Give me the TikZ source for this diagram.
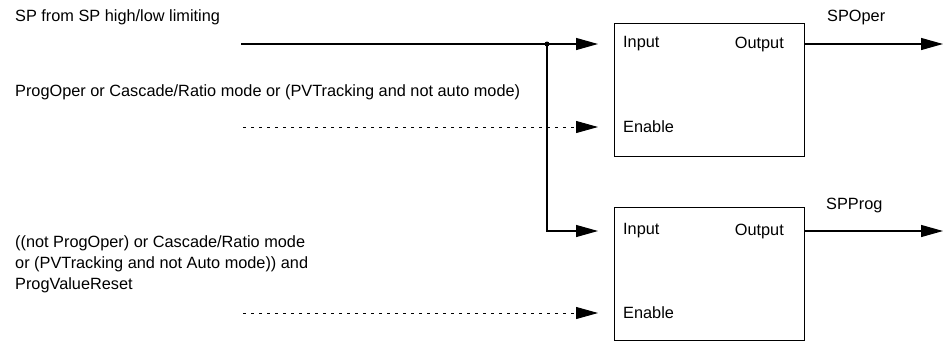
\documentclass[tikz,border=0pt]{standalone}
\usepackage{fontspec}
\setmainfont{Liberation Sans}
\usetikzlibrary{arrows.meta}

\tikzset{
  lbl/.style={inner sep=0pt, anchor=west, font=\fontsize{16.3}{21}\selectfont, align=left},
  blk/.style={draw, line width=1.2pt, inner sep=0pt, anchor=north west,
              minimum width=190pt, minimum height=133pt},
  tip/.style={-{Triangle[length=22pt,width=12pt]}},
  sig/.style={line width=1.2pt, tip},
  ctl/.style={line width=0.9pt, dash pattern=on 3pt off 5pt, tip},
  gap/.style={shorten >=16pt}
}

\begin{document}
\begin{tikzpicture}[x=1pt,y=-1pt]
  \useasboundingbox (0,0) rectangle (950,341);

  % function blocks
  \node[blk] (box1) at (614,23) {};
  \node[blk] (box2) at (614,207) {};

  % block pins
  \node[lbl] (in1)  at (623,44)  {Input};
  \node[lbl, anchor=east] (out1) at (784,44) {Output};
  \node[lbl] (en1)  at (623,127) {Enable};
  \node[lbl] (in2)  at (623,231) {Input};
  \node[lbl, anchor=east] (out2) at (784,231) {Output};
  \node[lbl] (en2)  at (623,313) {Enable};

  % signal descriptions
  \node[lbl] (tsp)  at (15,17)  {SP from SP high/low limiting};
  \node[lbl] (ten1) at (15,92)  {ProgOper or Cascade/Ratio mode or (PVTracking and not auto mode)};
  \node[lbl, anchor=north west] (ten2) at (15,235) {((not ProgOper) or Cascade/Ratio mode\\or (PVTracking and not Auto mode)) and\\ProgValueReset};
  \node[lbl] (tout1) at (827,17)  {SPOper};
  \node[lbl] (tout2) at (826,205) {SPProg};

  % line end points
  \coordinate (s1)  at (241,44);
  \coordinate (j)   at (547,44);
  \coordinate (e1s) at (243,127);
  \coordinate (e2s) at (243,313);
  \coordinate (o1)  at (943,44);
  \coordinate (o2)  at (943,231);

  % setpoint into both blocks
  \draw[sig, gap] (s1) -- (box1.west |- in1);
  \draw[sig, gap] (j) |- (box2.west |- in2);
  \fill (j) circle (2.5pt);

  % enable conditions
  \draw[ctl, gap] (e1s) -- (box1.west |- en1);
  \draw[ctl, gap] (e2s) -- (box2.west |- en2);

  % outputs
  \draw[sig] (box1.east |- out1) -- (o1);
  \draw[sig] (box2.east |- out2) -- (o2);
\end{tikzpicture}
\end{document}
